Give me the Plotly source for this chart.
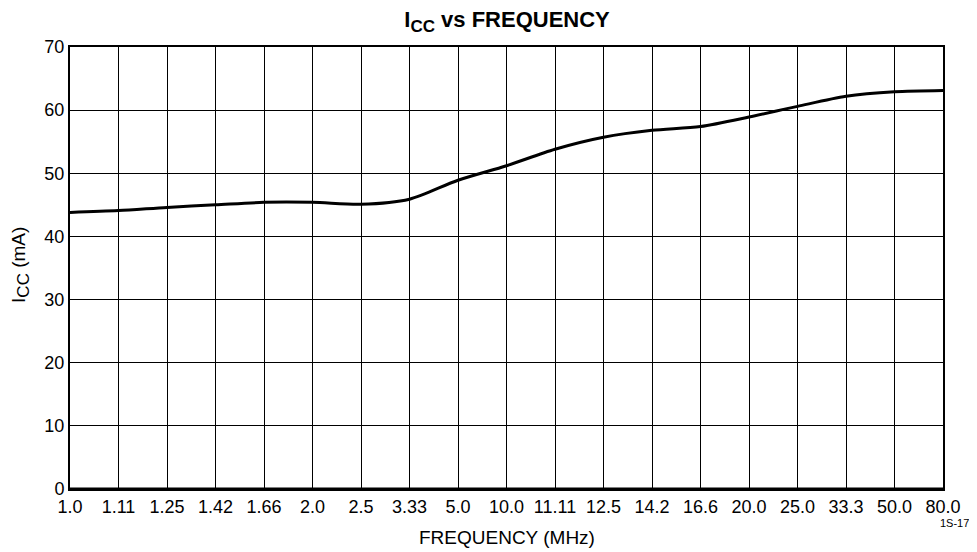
import plotly.graph_objects as go

freq_labels = ["1.0", "1.11", "1.25", "1.42", "1.66", "2.0", "2.5", "3.33", "5.0",
               "10.0", "11.11", "12.5", "14.2", "16.6", "20.0", "25.0", "33.3", "50.0", "80.0"]
icc_ma = [43.8, 44.1, 44.6, 45.0, 45.4, 45.4, 45.1, 45.9, 48.9,
          51.2, 53.8, 55.7, 56.8, 57.4, 58.9, 60.6, 62.2, 62.9, 63.1]
y_ticks = [0, 10, 20, 30, 40, 50, 60, 70]

FONT = "Liberation Sans, Arial, sans-serif"

fig = go.Figure()
fig.add_trace(go.Scatter(
    x=freq_labels, y=icc_ma, mode="lines",
    line=dict(color="black", width=3, shape="spline", smoothing=0.8),
    hoverinfo="skip", showlegend=False,
))

# page has an 8px body margin, so the figure is drawn 8px in from the window edges
fig.update_layout(
    width=969, height=544,
    margin=dict(l=62, r=34, t=39, b=63, autoexpand=False),
    paper_bgcolor="white", plot_bgcolor="white",
    font=dict(family=FONT, color="black", size=18),
    title=dict(text="<b>I<sub><span style='font-size:17px'>CC</span></sub> vs FREQUENCY</b>",
               x=0.515, xanchor="center", yref="container",
               y=0.9926, yanchor="top", pad=dict(t=0, b=0),
               font=dict(size=22, family=FONT, color="black")),
    showlegend=False,
)

fig.update_xaxes(
    type="category", range=[0, len(freq_labels) - 1],
    tickmode="array", tickvals=freq_labels, ticktext=freq_labels,
    showgrid=True, gridcolor="black", gridwidth=1,
    showline=True, linecolor="black", linewidth=2, mirror=True,
    ticks="", ticklen=0, tickfont=dict(size=18, family=FONT),
    automargin=False, zeroline=False, fixedrange=True,
)
fig.update_yaxes(
    range=[0, 70], tickmode="array", tickvals=y_ticks,
    showgrid=True, gridcolor="black", gridwidth=1,
    showline=True, linecolor="black", linewidth=2, mirror=True,
    ticks="", tickfont=dict(size=18, family=FONT),
    automargin=False, zeroline=False, fixedrange=True,
)

# thicker bottom axis line
fig.add_shape(type="line", xref="paper", yref="paper", x0=0, x1=1, y0=0, y1=0,
              line=dict(color="black", width=3))

# axis titles
fig.add_annotation(text="FREQUENCY (MHz)", xref="paper", yref="paper", x=0.5006, y=-0.1086,
                   xanchor="center", yanchor="middle", showarrow=False,
                   font=dict(size=19, family=FONT, color="black"))
fig.add_annotation(text="I<sub><span style='font-size:17px'>CC</span></sub> (mA)",
                   xref="paper", yref="paper", x=-0.0562, y=0.5068, textangle=-90,
                   xanchor="center", yanchor="middle", showarrow=False,
                   font=dict(size=19, family=FONT, color="black"))

fig.add_annotation(text="1S-17", xref="paper", yref="paper", x=1.0137, y=-0.077,
                   xanchor="center", yanchor="middle", showarrow=False,
                   font=dict(size=11, family=FONT, color="black"))

fig.write_html("out.html")
